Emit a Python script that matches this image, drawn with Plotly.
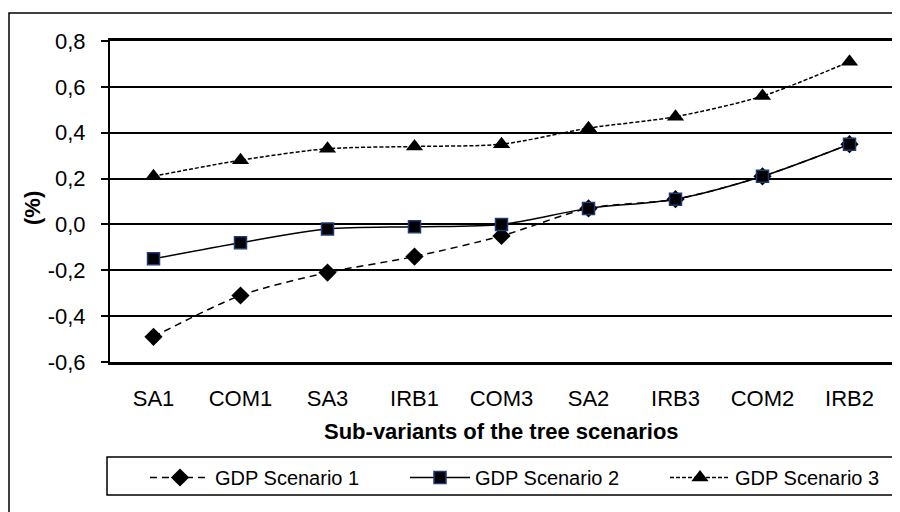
import plotly.graph_objects as go

categories = ["SA1", "COM1", "SA3", "IRB1", "COM3", "SA2", "IRB3", "COM2", "IRB2"]
gdp_scenario_1 = [-0.49, -0.31, -0.21, -0.14, -0.05, 0.07, 0.11, 0.21, 0.35]
gdp_scenario_2 = [-0.15, -0.08, -0.02, -0.01, 0.00, 0.07, 0.11, 0.21, 0.35]
gdp_scenario_3 = [0.21, 0.28, 0.33, 0.34, 0.35, 0.42, 0.47, 0.56, 0.71]
y_tick_values = [-0.6, -0.4, -0.2, 0.0, 0.2, 0.4, 0.6, 0.8]
y_tick_labels = ["-0,6", "-0,4", "-0,2", "0,0", "0,2", "0,4", "0,6", "0,8"]

FONT = "Liberation Sans, Arial, sans-serif"

fig = go.Figure()
fig.add_trace(go.Scatter(
    x=categories, y=gdp_scenario_1, name="GDP Scenario 1", mode="lines+markers",
    line=dict(color="black", width=1.5, dash="7px,5px", shape="spline", smoothing=0.8),
    marker=dict(symbol="diamond", size=14, color="black"),
))
fig.add_trace(go.Scatter(
    x=categories, y=gdp_scenario_2, name="GDP Scenario 2", mode="lines+markers",
    line=dict(color="black", width=1.5, shape="spline", smoothing=0.8),
    marker=dict(symbol="square", size=12, color="black", line=dict(color="#1F3A78", width=1.5)),
))
fig.add_trace(go.Scatter(
    x=categories, y=gdp_scenario_3, name="GDP Scenario 3", mode="lines+markers",
    line=dict(color="black", width=1.5, dash="4px,2px", shape="spline", smoothing=0.8),
    marker=dict(symbol="triangle-up", size=15, color="black"),
))

OFF = 8  # page body margin offset of the figure in the window
W, H = 900, 512
L, T = 110 - OFF, 41 - OFF
R = W - (893 - OFF)
B = H - (362 - OFF)
pw, ph = W - L - R, H - T - B

def px_x(p):
    return (p - OFF - L) / pw

def px_y(p):
    return (H - B - (p - OFF)) / ph

fig.update_layout(
    width=W, height=H,
    margin=dict(l=L, r=R, t=T, b=B, pad=0, autoexpand=False),
    paper_bgcolor="white", plot_bgcolor="white",
    font=dict(family=FONT, color="black", size=20),
    separators=",.",
    showlegend=True,
    legend=dict(
        orientation="h", x=px_x(145), xanchor="left", y=px_y(458), yanchor="top",
        font=dict(family=FONT, size=20, color="black"),
        itemwidth=60, entrywidth=185, bgcolor="rgba(0,0,0,0)", borderwidth=0,
        traceorder="normal",
    ),
    xaxis=dict(
        type="category", range=[-0.5, 8.5], showgrid=False, automargin=False,
        showline=True, linecolor="black", linewidth=2.5, mirror=True,
        ticks="", tickfont=dict(family=FONT, size=22, color="black"),
        ticklabelstandoff=15,
    ),
    yaxis=dict(
        range=[-0.6, 0.8], tickvals=y_tick_values, ticktext=y_tick_labels,
        showgrid=True, gridcolor="black", gridwidth=1.5, automargin=False,
        zeroline=False, showline=True, linecolor="black", linewidth=2, mirror=True,
        ticks="outside", ticklen=7, tickwidth=1.5, tickcolor="black",
        tickfont=dict(family=FONT, size=22, color="black"),
        ticklabelstandoff=11,
    ),
    annotations=[
        dict(text="<b>Sub-variants of the tree scenarios</b>", xref="paper", yref="paper",
             x=0.5, y=px_y(431), xanchor="center", yanchor="middle", showarrow=False,
             font=dict(family=FONT, size=22, color="black")),
        dict(text="<b>(%)</b>", xref="paper", yref="paper", textangle=-90,
             x=px_x(33), y=px_y(208), xanchor="center", yanchor="middle", showarrow=False,
             font=dict(family=FONT, size=22, color="black")),
    ],
    shapes=[
        dict(type="rect", xref="paper", yref="paper",
             x0=px_x(9), x1=px_x(915), y0=px_y(530), y1=px_y(13),
             line=dict(color="black", width=1.5), layer="below"),
        dict(type="rect", xref="paper", yref="paper",
             x0=px_x(107), x1=px_x(915), y0=px_y(495), y1=px_y(457),
             line=dict(color="black", width=1.5), layer="below"),
    ],
)

fig.write_html("out.html")
